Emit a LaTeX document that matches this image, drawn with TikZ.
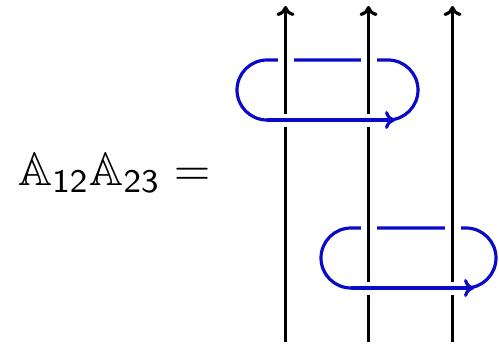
\documentclass[tikz,border=0pt]{standalone}
\usepackage{amssymb}
\usetikzlibrary{arrows.meta}
\definecolor{loopblue}{RGB}{10,10,200}
\begin{document}
\begin{tikzpicture}[x=0.5pt,y=0.5pt,
  strand/.style={line width=1.6pt, black, -{To[length=5pt,width=9pt]}},
  loopline/.style={line width=1.6pt, loopblue},
  looparrow/.style={line width=1.6pt, loopblue, -{To[length=5pt,width=9pt]}},
  gapband/.style={line width=6.5pt, white},
  gapbox/.style={fill=white, draw=none}]
\useasboundingbox (0,0) rectangle (499,344);
\node[anchor=base west, inner sep=0pt] (lhs) at (18,159)
  {\scalebox{2.35}{$\mathbb{A}_{\mathsf{12}}\mathbb{A}_{\mathsf{23}} =$}};
% strand end points
\foreach \i/\x in {1/285.5,2/368.5,3/452.5}{
  \coordinate (b\i) at (\x,2);
  \coordinate (t\i) at (\x,338);
}
% loop 1
\coordinate (L1tl) at (267,284);
\coordinate (L1bl) at (267,224);
\coordinate (L1br) at (388,224);
\coordinate (L1tip) at (395,224);
\coordinate (L1tr) at (388,284);
% loop 2
\coordinate (L2tl) at (351,116);
\coordinate (L2bl) at (351,56);
\coordinate (L2br) at (466,56);
\coordinate (L2tip) at (474,56);
\coordinate (L2tr) at (466,116);
% blue loops
\draw[loopline] (L1tl) arc[start angle=90,end angle=270,radius=30] -- (L1br)
  arc[start angle=-90,end angle=90,radius=30] -- cycle;
\draw[loopline] (L2tl) arc[start angle=90,end angle=270,radius=30] -- (L2br)
  arc[start angle=-90,end angle=90,radius=30] -- cycle;
% gaps in blue where strands pass over
\foreach \x/\y in {285.5/284,368.5/284,368.5/116,452.5/116}{
  \fill[gapbox] (\x-8,\y-5) rectangle (\x+8,\y+5);
}
% strands
\foreach \i in {1,2,3}{
  \draw[strand] (b\i) -- (t\i);
}
% blue bottoms passing over strands
\draw[gapband] (L1bl) -- (L1br);
\draw[loopline] (L1bl) -- (L1br);
\draw[looparrow] (L1bl) -- (L1tip);
\draw[gapband] (L2bl) -- (L2br);
\draw[loopline] (L2bl) -- (L2br);
\draw[looparrow] (L2bl) -- (L2tip);
\end{tikzpicture}
\end{document}
